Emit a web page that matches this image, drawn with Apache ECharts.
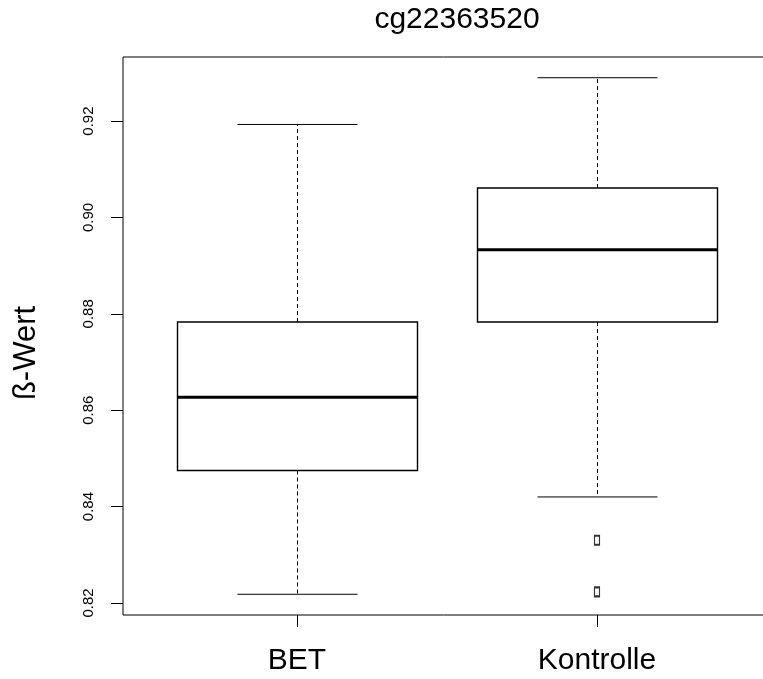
<!DOCTYPE html>
<html>
<head>
<meta charset="utf-8">
<script src="https://cdn.jsdelivr.net/npm/echarts@6/dist/echarts.min.js"></script>
<style>
html, body { margin: 0; padding: 0; background: #fff; }
#chart { width: 763px; height: 679px; }
</style>
</head>
<body>
<div id="chart"></div>
<script>
// box statistics per group
var categories = ['BET', 'Kontrolle'];
var lowWhisker = [0.8218, 0.8420];
var lowerQuartile = [0.8475, 0.8783];
var medians = [0.8627, 0.8933];
var upperQuartile = [0.8783, 0.9061];
var highWhisker = [0.9193, 0.9290];
// outliers: group index + value
var outlierGroup = [1, 1];
var outlierValues = [0.8330, 0.8223];
var yTicks = [0.82, 0.84, 0.86, 0.88, 0.90, 0.92];

var font = "'Liberation Sans', Arial, Helvetica, sans-serif";

var boxData = categories.map(function (c, i) {
    return [i + 1, lowWhisker[i], lowerQuartile[i], medians[i], upperQuartile[i], highWhisker[i]];
});
var outlierData = outlierGroup.map(function (g, i) {
    return [g + 1, outlierValues[i]];
});

function renderBox(params, api) {
    var x = api.value(0);
    var low = api.coord([x, api.value(1)]);
    var q1 = api.coord([x, api.value(2)]);
    var med = api.coord([x, api.value(3)]);
    var q3 = api.coord([x, api.value(4)]);
    var high = api.coord([x, api.value(5)]);
    var half = api.size([0.4, 0])[0];
    var staple = api.size([0.2, 0])[0];
    var cx = Math.round(low[0]) + 0.5;
    var dash = { stroke: '#000', lineWidth: 1, lineDash: [4, 3] };
    var solid = { stroke: '#000', lineWidth: 1 };
    return {
        type: 'group',
        children: [
            { type: 'line', shape: { x1: cx, y1: q3[1], x2: cx, y2: high[1] }, style: dash },
            { type: 'line', shape: { x1: cx, y1: q1[1], x2: cx, y2: low[1] }, style: dash },
            { type: 'line', shape: { x1: cx - staple, y1: high[1], x2: cx + staple, y2: high[1] }, style: solid },
            { type: 'line', shape: { x1: cx - staple, y1: low[1], x2: cx + staple, y2: low[1] }, style: solid },
            {
                type: 'rect',
                shape: { x: cx - half, y: q3[1], width: half * 2, height: q1[1] - q3[1] },
                style: { fill: '#fff', stroke: '#000', lineWidth: 1.4 }
            },
            { type: 'line', shape: { x1: cx - half, y1: med[1], x2: cx + half, y2: med[1] }, style: { stroke: '#000', lineWidth: 3 } }
        ]
    };
}

var myChart = echarts.init(document.getElementById('chart'));

var option = {
    backgroundColor: '#fff',
    animation: false,
    title: {
        text: 'cg22363520',
        left: 457,
        top: 5,
        padding: 0,
        textAlign: 'center',
        textStyle: { fontFamily: font, fontSize: 30, fontWeight: 'normal', color: '#000' }
    },
    grid: {
        left: 123,
        top: 57,
        right: -8,
        bottom: 64,
        outerBoundsMode: 'none',
        containLabel: false,
        show: true,
        borderColor: '#000',
        borderWidth: 1,
        backgroundColor: 'transparent'
    },
    xAxis: {
        type: 'value',
        min: 0.42,
        max: 2.58,
        axisLine: { show: false },
        splitLine: { show: false },
        axisTick: { show: true, customValues: [1, 2], length: 12, inside: false, lineStyle: { color: '#000' } },
        axisLabel: {
            customValues: [1, 2],
            margin: 31,
            formatter: function (v) { return categories[Math.round(v) - 1]; },
            fontFamily: font,
            fontSize: 30,
            color: '#000'
        }
    },
    yAxis: {
        type: 'value',
        min: 0.8175,
        max: 0.9333,
        name: 'ß-Wert',
        nameLocation: 'middle',
        nameGap: 81,
        nameTextStyle: { fontFamily: font, fontSize: 31, color: '#000', padding: [0, 34, 0, 0] },
        axisLine: { show: false },
        splitLine: { show: false },
        axisTick: { show: true, customValues: yTicks, length: 12, lineStyle: { color: '#000' } },
        axisLabel: {
            customValues: yTicks,
            rotate: 90,
            margin: 27,
            formatter: function (v) { return v.toFixed(2); },
            fontFamily: font,
            fontSize: 15,
            color: '#000'
        }
    },
    series: [
        {
            type: 'custom',
            renderItem: renderBox,
            data: boxData,
            encode: { x: 0, y: [1, 2, 3, 4, 5] },
            z: 2
        },
        {
            type: 'scatter',
            data: outlierData,
            symbol: 'rect',
            symbolSize: [5, 9],
            itemStyle: { color: '#fff', borderColor: '#000', borderWidth: 1.5 },
            z: 3
        }
    ]
};

myChart.setOption(option);
</script>
</body>
</html>
